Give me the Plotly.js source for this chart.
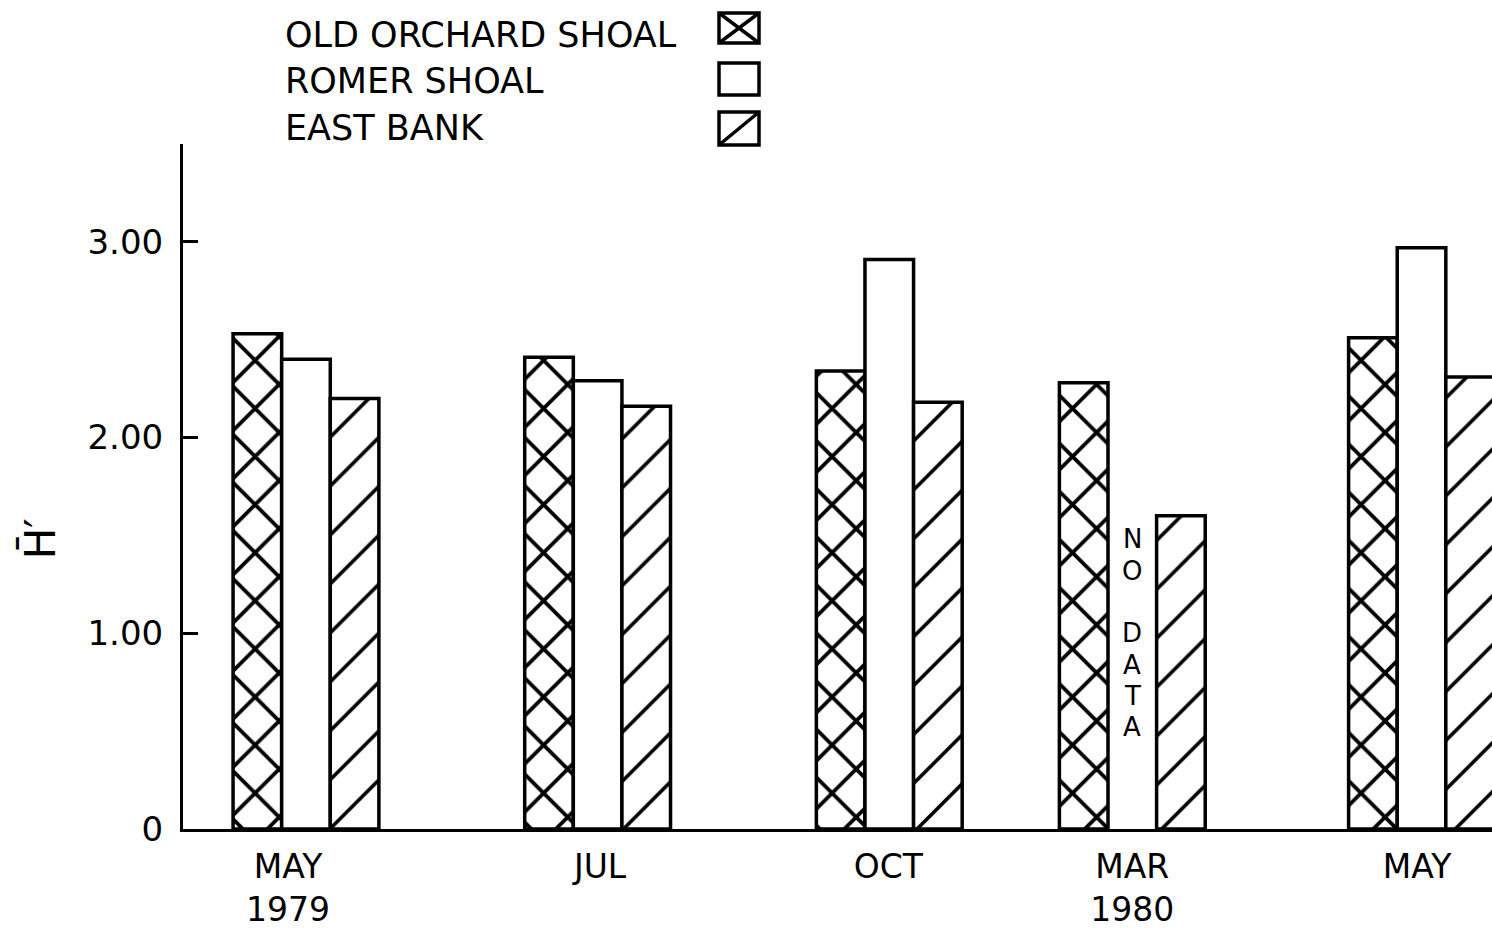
<!DOCTYPE html>
<html>
<head>
<meta charset="utf-8">
<script src="https://cdn.plot.ly/plotly-3.0.1.min.js"></script>
<style>
  html, body { margin: 0; padding: 0; background: #ffffff; }
  #chart { width: 1492px; height: 933px; }
</style>
</head>
<body>
<div id="chart"></div>
<script>
// ---- data ----
var seriesNames = ['OLD ORCHARD SHOAL', 'ROMER SHOAL', 'EAST BANK'];
var groupPos = [0, 6, 12, 17, 22.95];          // position of each sampling group along the x axis
var labelPos = [-0.37, 6.05, 11.98, 17.0, 22.86];
var tickLabels = ['MAY<br>1979', 'JUL', 'OCT', 'MAR<br>1980', 'MAY'];
var oldOrchard = [2.53, 2.41, 2.34, 2.28, 2.51];
var romer = [2.40, 2.29, 2.91, null, 2.97];
var eastBank = [2.20, 2.16, 2.18, 1.60, 2.31];
var yTickVals = [0, 1, 2, 3];
var yTickText = ['0', '1.00', '2.00', '3.00'];
var noDataLetters = ['N', 'O', '', 'D', 'A', 'T', 'A'];

var FONT = 'DejaVu Sans, Liberation Sans, sans-serif';

function barTrace(name, y, offset, pattern) {
  return {
    type: 'bar', name: name, x: groupPos, y: y,
    width: 1, offset: offset,
    marker: {
      color: 'white',
      line: { color: 'black', width: 3.5 },
      pattern: pattern
    },
    hoverinfo: 'skip', showlegend: false
  };
}

var traces = [
  barTrace(seriesNames[0], oldOrchard, -1.5,
    { shape: 'x', size: 34, solidity: 0.21, fgcolor: 'black', bgcolor: 'white', fillmode: 'replace' }),
  barTrace(seriesNames[1], romer, -0.5,
    { shape: '', fgcolor: 'black', bgcolor: 'white' }),
  barTrace(seriesNames[2], eastBank, 0.5,
    { shape: '/', size: 34.6, solidity: 0.105, fgcolor: 'black', bgcolor: 'white', fillmode: 'replace' })
];

// ---- annotations ----
var annotations = [];
// y-axis title
annotations.push({
  xref: 'paper', yref: 'y', x: 0, y: 1.48, xshift: -143,
  xanchor: 'center', yanchor: 'middle', textangle: -90,
  text: 'H\u0304\u2032', showarrow: false,
  font: { family: FONT, size: 42, color: 'black' }
});
// NO DATA, stacked letters
noDataLetters.forEach(function (ch, i) {
  if (!ch) return;
  annotations.push({
    xref: 'x', yref: 'y', x: groupPos[3], y: 1.48 - i * 0.16,
    xanchor: 'center', yanchor: 'middle', text: ch, showarrow: false,
    font: { family: FONT, size: 26, color: 'black' }
  });
});
// legend texts
var legendShift = [109, 63, 16];
seriesNames.forEach(function (n, i) {
  annotations.push({
    xref: 'paper', yref: 'paper', x: 0, y: 1, xshift: 100, yshift: legendShift[i],
    xanchor: 'left', yanchor: 'middle', text: n, showarrow: false,
    font: { family: FONT, size: 35, color: 'black' }
  });
});

// legend boxes (pixel-sized shapes anchored at the plot's top-left corner)
function pxShape(type, x0, y0, x1, y1) {
  return {
    type: type, xref: 'paper', yref: 'paper',
    xsizemode: 'pixel', ysizemode: 'pixel', xanchor: 0, yanchor: 1,
    x0: x0, x1: x1, y0: y0, y1: y1,
    line: { color: 'black', width: 3.5 }, fillcolor: 'rgba(0,0,0,0)'
  };
}
var bx0 = 536, bx1 = 576;
var boxes = [[101, 131], [49, 81], [-1, 32]];
var shapes = [];
boxes.forEach(function (b) { shapes.push(pxShape('rect', bx0, b[0], bx1, b[1])); });
shapes.push(pxShape('line', bx0, boxes[0][0], bx1, boxes[0][1]));
shapes.push(pxShape('line', bx0, boxes[0][1], bx1, boxes[0][0]));
shapes.push(pxShape('line', bx0, boxes[2][0], bx1, boxes[2][1]));

var layout = {
  width: 1492, height: 933,
  margin: { l: 183, r: 0, t: 144, b: 104, pad: 0 },
  paper_bgcolor: 'white', plot_bgcolor: 'white',
  font: { family: FONT, color: 'black', size: 34 },
  barmode: 'overlay',
  showlegend: false,
  xaxis: {
    range: [-2.53, 24.40], showgrid: false, zeroline: false,
    showline: true, linecolor: 'black', linewidth: 3,
    ticks: '', tickvals: labelPos, ticktext: tickLabels,
    tickfont: { family: FONT, size: 33, color: 'black' },
    ticklabelstandoff: 6, fixedrange: true
  },
  yaxis: {
    range: [0, 3.5], showgrid: false, zeroline: false,
    showline: true, linecolor: 'black', linewidth: 3,
    ticks: 'inside', ticklen: 15, tickwidth: 3, tickcolor: 'black',
    tickvals: yTickVals, ticktext: yTickText,
    tickfont: { family: FONT, size: 34, color: 'black' },
    ticklabelstandoff: 10, fixedrange: true
  },
  annotations: annotations,
  shapes: shapes
};

Plotly.newPlot('chart', traces, layout, { displayModeBar: false, staticPlot: true });
</script>
</body>
</html>
